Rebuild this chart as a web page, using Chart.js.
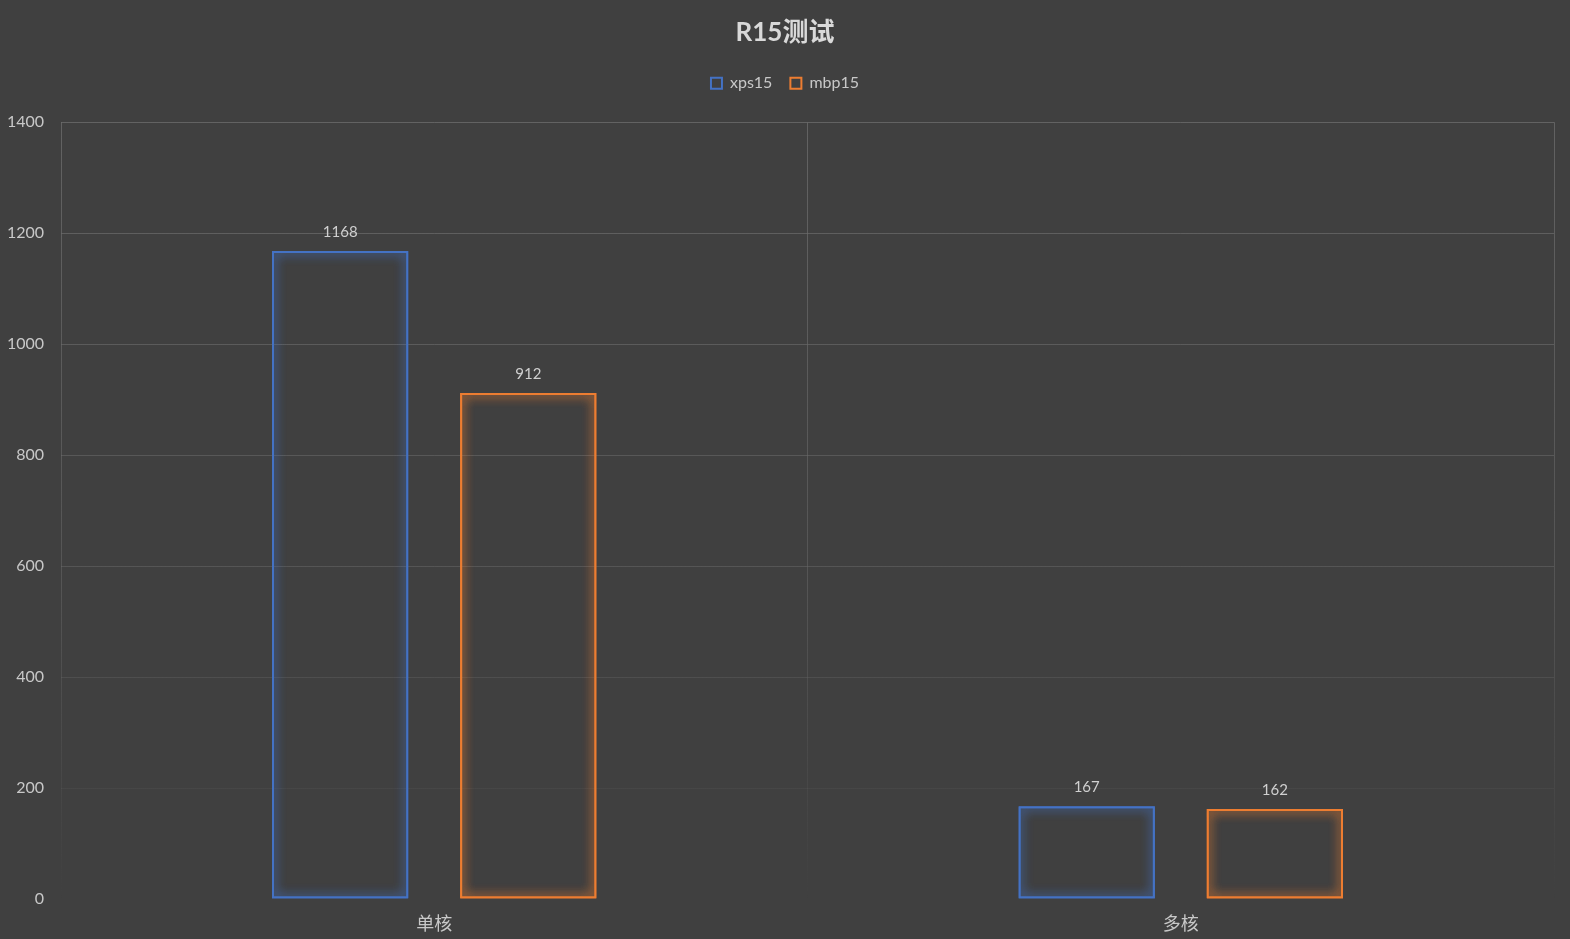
<!DOCTYPE html>
<html>
<head>
<meta charset="utf-8">
<script src="https://cdn.jsdelivr.net/npm/chart.js@4/dist/chart.umd.min.js"></script>
<style>
  html, body { margin: 0; padding: 0; background: #404040; }
  #wrap { width: 1570px; height: 939px; }
</style>
</head>
<body>
<div id="wrap"><canvas id="chart"></canvas></div>
<script>
var categories = ['单核', '多核'];
var xps15 = [1168, 167];
var mbp15 = [912, 162];
var yTicks = [0, 200, 400, 600, 800, 1000, 1200, 1400];

var FONT = "Lato, 'Noto Sans CJK SC', sans-serif";
var BLUE = '#4472C4';
var ORANGE = '#ED7D31';

// grid fades out toward the bottom like the original
function fadeGrid(c) {
  var chart = c.chart;
  var ca = chart.chartArea;
  if (!ca) return '#595959';
  var g = chart.ctx.createLinearGradient(0, ca.top, 0, ca.bottom);
  g.addColorStop(0, 'rgba(110,110,110,0.75)');
  g.addColorStop(0.6, 'rgba(110,110,110,0.45)');
  g.addColorStop(1, 'rgba(110,110,110,0)');
  return g;
}

// soft glow round the outlined bars (drawn twice so it builds up)
var glow = {
  id: 'glow',
  beforeDatasetDraw: function(chart, args) {
    var ctx = chart.ctx;
    ctx.save();
    ctx.shadowColor = args.index === 0 ? 'rgba(68,114,196,1)' : 'rgba(237,125,49,1)';
    ctx.shadowBlur = 11;
  },
  afterDatasetDraw: function(chart, args) {
    args.meta.controller.draw();
    chart.ctx.restore();
  }
};

// value labels above each bar
var valueLabels = {
  id: 'valueLabels',
  afterDatasetsDraw: function(chart) {
    var ctx = chart.ctx;
    ctx.save();
    ctx.font = '15px ' + FONT;
    ctx.fillStyle = '#d0d0d0';
    ctx.textAlign = 'center';
    ctx.textBaseline = 'middle';
    chart.data.datasets.forEach(function(ds, i) {
      chart.getDatasetMeta(i).data.forEach(function(bar, j) {
        ctx.fillText(ds.data[j], bar.x, bar.y - 19);
      });
    });
    ctx.restore();
  }
};

// extra room under the legend
var legendGap = {
  id: 'legendGap',
  beforeInit: function(chart) {
    var fit = chart.legend.fit;
    chart.legend.fit = function() {
      fit.bind(chart.legend)();
      this.height += 21;
    };
  }
};

var ctx = document.getElementById('chart');
var myChart = new Chart(ctx, {
  type: 'bar',
  data: {
    labels: categories,
    datasets: [{
      label: 'xps15',
      data: xps15,
      backgroundColor: 'rgba(0,0,0,0)',
      borderColor: BLUE,
      borderWidth: 2,
      borderSkipped: false
    }, {
      label: 'mbp15',
      data: mbp15,
      backgroundColor: 'rgba(0,0,0,0)',
      borderColor: ORANGE,
      borderWidth: 2,
      borderSkipped: false
    }]
  },
  options: {
    responsive: true,
    maintainAspectRatio: false,
    animation: false,
    devicePixelRatio: 1,
    categoryPercentage: 0.504,
    barPercentage: 0.725,
    layout: { padding: { left: 0, right: 0, top: 17, bottom: 0 } },
    plugins: {
      title: {
        display: true,
        text: 'R15测试',
        color: '#d9d9d9',
        font: { family: FONT, size: 26, weight: 'bold' },
        padding: { top: 0, bottom: 9 }
      },
      legend: {
        position: 'top',
        labels: {
          color: '#c8c8c8',
          font: { family: FONT, size: 16 },
          boxWidth: 11,
          boxHeight: 11,
          padding: 18
        }
      },
      tooltip: { enabled: false }
    },
    scales: {
      x: {
        grid: { color: fadeGrid, drawTicks: false, offset: true },
        border: { display: false },
        afterFit: function(scale) { scale.height = 40; },
        ticks: {
          color: '#c8c8c8',
          font: { family: FONT, size: 18 },
          padding: 14
        }
      },
      y: {
        min: 0,
        max: 1400,
        afterBuildTicks: function(axis) {
          axis.ticks = yTicks.map(function(v) { return { value: v }; });
        },
        afterFit: function(scale) { scale.width = 61; },
        grid: { color: fadeGrid, drawTicks: false },
        border: { display: false },
        ticks: {
          color: '#c8c8c8',
          font: { family: FONT, size: 16 },
          padding: 17,
          callback: function(v) { return String(v); }
        }
      },
      // empty right-hand axis, only keeps a margin so title stays centred on the page
      yRight: {
        position: 'right',
        grid: { display: false },
        border: { display: false },
        ticks: { display: false },
        afterFit: function(scale) { scale.width = 16; }
      }
    }
  },
  plugins: [glow, valueLabels, legendGap]
});
</script>
</body>
</html>
